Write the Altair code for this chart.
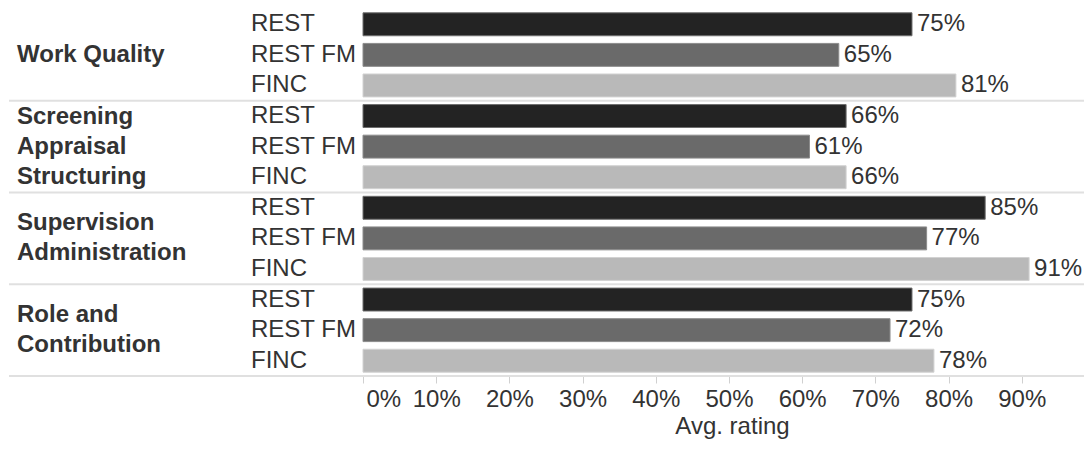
import altair as alt
import pandas as pd

FONT = "Liberation Sans"

groups = ["Work Quality", "Screening Appraisal Structuring", "Supervision Administration", "Role and Contribution"]
group_labels = ["Work Quality", "Screening\nAppraisal\nStructuring", "Supervision\nAdministration", "Role and\nContribution"]
subs = ["REST", "REST FM", "FINC"]
rest_vals = [0.75, 0.66, 0.85, 0.75]
rest_fm_vals = [0.65, 0.61, 0.77, 0.72]
finc_vals = [0.81, 0.66, 0.91, 0.78]
x_ticks = [0, 0.1, 0.2, 0.3, 0.4, 0.5, 0.6, 0.7, 0.8, 0.9]

fill_colors = ["#232323", "#6a6a6a", "#b9b9b9"]
stroke_colors = ["#6e6e6e", "#8c8c8c", "#d2d2d2"]

series = [rest_vals, rest_fm_vals, finc_vals]
rows = []
for gi, g in enumerate(groups):
    for si, s in enumerate(subs):
        rows.append({"group": g, "sub": s, "key": f"{g}|{s}", "value": series[si][gi]})
df = pd.DataFrame(rows)
keys = list(df["key"])

gdf = pd.DataFrame({"key": [f"{g}|{subs[1]}" for g in groups], "label": group_labels})
sep_df = pd.DataFrame({"key": [f"{g}|{subs[-1]}" for g in groups]})

W = 721
H = 367
LINE_H = 30

x_scale = alt.Scale(domain=[0, 0.985], nice=False, zero=True)
y_scale = alt.Scale(domain=keys, paddingInner=0, paddingOuter=0)

bars = alt.Chart(df).mark_bar(height={"band": 0.75}, strokeWidth=1).encode(
    x=alt.X("value:Q", scale=x_scale, axis=alt.Axis(
        values=x_ticks, format=".0%", title="Avg. rating", grid=False, domain=False,
        tickColor="#d0d0d0", tickSize=7, labelPadding=4, labelFontSize=24,
        labelFont=FONT, labelColor="#333333", titleFont=FONT, titleFontSize=24,
        titleFontWeight="normal", titleColor="#333333",
        titleX=369, titleY=57, titleAlign="center", titleBaseline="alphabetic",
        labelFlush=True, labelFlushOffset=-3, labelOverlap=False)),
    y=alt.Y("key:N", scale=y_scale, sort=None, axis=None),
    color=alt.Color("sub:N", scale=alt.Scale(domain=subs, range=fill_colors), legend=None),
    stroke=alt.Stroke("sub:N", scale=alt.Scale(domain=subs, range=stroke_colors), legend=None),
)

values = alt.Chart(df).mark_text(align="left", baseline="middle", dx=5, fontSize=24,
                                 font=FONT, color="#333333").encode(
    x=alt.X("value:Q", scale=x_scale),
    y=alt.Y("key:N", scale=y_scale, sort=None, axis=None),
    text=alt.Text("value:Q", format=".0%"),
)

sublabels = alt.Chart(df).mark_text(align="left", baseline="middle", fontSize=24,
                                    font=FONT, color="#333333").encode(
    y=alt.Y("key:N", scale=y_scale, sort=None, axis=None),
    x=alt.value(-112),
    text="sub:N",
)

seps = alt.Chart(sep_df).mark_rule(color="#e0e0e0", strokeWidth=2).encode(
    y=alt.Y("key:N", scale=y_scale, sort=None, bandPosition=1, axis=None),
    x=alt.value(-354),
    x2=alt.value(W),
)

glayers = []
for g, lab in zip(groups, group_labels):
    n_lines = lab.count("\n") + 1
    glayers.append(
        alt.Chart(gdf).transform_filter(alt.datum.key == f"{g}|{subs[1]}")
        .mark_text(align="left", baseline="middle", lineBreak="\n",
                   lineHeight=LINE_H, fontSize=24, fontWeight="bold",
                   font=FONT, color="#333333", dy=-(n_lines - 1) * LINE_H / 2)
        .encode(
            y=alt.Y("key:N", scale=y_scale, sort=None, axis=None),
            x=alt.value(-346),
            text="label:N",
        )
    )

chart = alt.layer(bars, values, sublabels, seps, *glayers).properties(
    width=W, height=H,
    padding={"left": 355, "top": 1, "right": 0, "bottom": 63},
    autosize=alt.AutoSizeParams(type="none"),
    background="white",
).configure_view(stroke=None)

chart.save("out.html", embed_options={"renderer": "svg", "actions": False})
